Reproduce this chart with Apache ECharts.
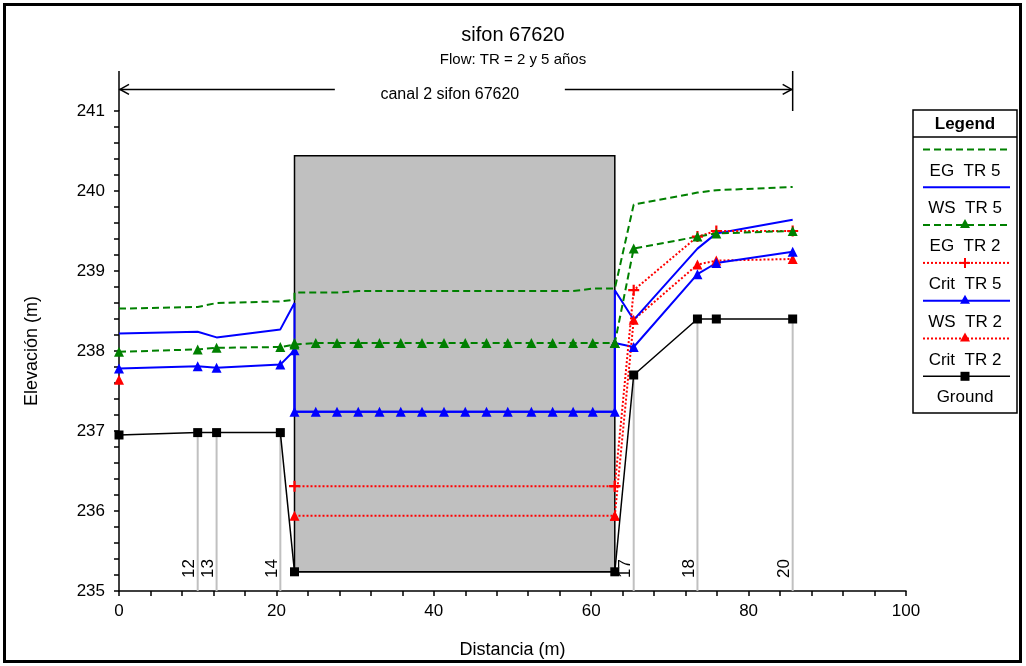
<!DOCTYPE html>
<html lang="es">
<head>
<meta charset="UTF-8">
<title>sifon 67620</title>
<style>
  html, body { margin: 0; padding: 0; background: #fff; }
  #chart { width: 1026px; height: 666px; }
</style>
</head>
<body>
<div id="chart"></div>
<script src="https://cdn.jsdelivr.net/npm/echarts@6/dist/echarts.min.js"></script>
<script>
// estaciones (m)
const upX = [0, 10, 12.4, 20.5, 22.3];
const culvertX = [22.3, 25.0, 27.7, 30.4, 33.1, 35.8, 38.5, 41.3, 44.0, 46.7, 49.4, 52.4, 55.1, 57.7, 60.2, 63.0];
const critCulvertX = [22.3, 63.0];
const downX = [63.0, 65.4, 73.5, 75.9, 85.6];

// EG TR 5
const egTr5Up = [238.53, 238.55, 238.60, 238.62, 238.64];
const egTr5Culvert = [238.73, 238.73, 238.73, 238.75, 238.75, 238.75, 238.75, 238.75, 238.75, 238.75, 238.75, 238.75, 238.75, 238.75, 238.78, 238.78];
const egTr5Down = [238.78, 239.83, 239.98, 240.01, 240.05];
// WS TR 5
const wsTr5Up = [238.22, 238.24, 238.17, 238.27, 238.60];
const wsTr5Culvert = [237.24, 237.24, 237.24, 237.24, 237.24, 237.24, 237.24, 237.24, 237.24, 237.24, 237.24, 237.24, 237.24, 237.24, 237.24, 237.24];
const wsTr5Down = [238.76, 238.39, 239.28, 239.47, 239.64];
// EG TR 2
const egTr2Up = [237.99, 238.02, 238.04, 238.05, 238.08];
const egTr2Culvert = [238.10, 238.10, 238.10, 238.10, 238.10, 238.10, 238.10, 238.10, 238.10, 238.10, 238.10, 238.10, 238.10, 238.10, 238.10, 238.10];
const egTr2Down = [238.10, 239.28, 239.43, 239.47, 239.50];
// Crit TR 5
const critTr5Up = [null, null, null, null, null];
const critTr5Culvert = [236.31, 236.31];
const critTr5Down = [236.31, 238.76, 239.43, 239.50, 239.50];
// WS TR 2
const wsTr2Up = [237.78, 237.81, 237.79, 237.83, 238.01];
const wsTr2Culvert = [237.24, 237.24, 237.24, 237.24, 237.24, 237.24, 237.24, 237.24, 237.24, 237.24, 237.24, 237.24, 237.24, 237.24, 237.24, 237.24];
const wsTr2Down = [238.10, 238.05, 238.96, 239.10, 239.24];
// Crit TR 2
const critTr2Up = [237.64, null, null, null, null];
const critTr2Culvert = [235.94, 235.94];
const critTr2Down = [235.94, 238.39, 239.08, 239.13, 239.15];
// Ground
const groundX = [0, 10, 12.4, 20.5, 22.3, 63.0, 65.4, 73.5, 75.9, 85.6];
const groundY = [236.95, 236.98, 236.98, 236.98, 235.24, 235.24, 237.70, 238.40, 238.40, 238.40];

// secciones rotuladas
const stationX = [10, 12.4, 20.5, 65.4, 73.5, 85.6];
const stationGround = [236.98, 236.98, 236.98, 237.70, 238.40, 238.40];
const stationLabels = ['12', '13', '14', '17', '18', '20'];

// sifon
const culvertStart = 22.3, culvertEnd = 63.0, culvertInvert = 235.24, culvertTop = 240.44;

// tramo
const reachLabel = 'canal 2 sifon 67620';
const reachStart = 0, reachEnd = 85.6;

const yMin = 235, yMax = 241;
const FONT = '"Liberation Sans", Arial, sans-serif';
const plusPath = 'path://M4,0 L6,0 L6,4 L10,4 L10,6 L6,6 L6,10 L4,10 L4,6 L0,6 L0,4 L4,4 Z';

function pts(xs, ys) {
  return xs.map((x, i) => [x, ys[i] == null ? '-' : ys[i]]);
}
function profile(up, mid, midX, down) {
  return pts(upX, up).concat(pts(midX, mid)).concat(pts(downX, down));
}

const GREEN = '#008000', BLUE = '#0000ff', RED = '#ff0000';

const series = [
  {
    type: 'custom', z: 1, silent: true,
    data: [[culvertStart, culvertTop]],
    renderItem: function (params, api) {
      const a = api.coord([culvertStart, culvertTop]);
      const b = api.coord([culvertEnd, culvertInvert]);
      return {
        type: 'rect',
        shape: { x: a[0], y: a[1], width: b[0] - a[0], height: b[1] - a[1] },
        style: { fill: '#c0c0c0', stroke: '#000', lineWidth: 1.5 }
      };
    }
  },
  {
    type: 'custom', z: 1, silent: true,
    data: stationX.map((x, i) => [x, stationGround[i]]),
    renderItem: function (params, api) {
      const top = api.coord([api.value(0), api.value(1)]);
      const bot = api.coord([api.value(0), yMin]);
      return {
        type: 'group',
        children: [
          { type: 'line', shape: { x1: top[0], y1: top[1], x2: bot[0], y2: bot[1] },
            style: { stroke: '#c0c0c0', lineWidth: 2 } },
          { type: 'text', x: top[0] - 8, y: bot[1] - 13, rotation: Math.PI / 2,
            style: { text: stationLabels[params.dataIndex], font: '17px ' + FONT, fill: '#000',
                     align: 'left', verticalAlign: 'middle' } }
        ]
      };
    }
  },
  {
    type: 'custom', z: 5, silent: true, clip: false,
    data: [[reachStart, yMax]],
    renderItem: function (params, api) {
      const l0 = api.coord([reachStart, yMax]);
      const l1 = api.coord([reachStart, yMax + 0.5]);
      const r0 = api.coord([reachEnd, yMax]);
      const r1 = api.coord([reachEnd, yMax + 0.5]);
      const ay = api.coord([reachStart, yMax + 0.27])[1];
      const mid = (l0[0] + r0[0]) / 2;
      const st = { stroke: '#000', lineWidth: 1.5, fill: 'none' };
      return {
        type: 'group',
        children: [
          { type: 'line', shape: { x1: l0[0], y1: l0[1], x2: l1[0], y2: l1[1] }, style: st },
          { type: 'line', shape: { x1: r0[0], y1: r0[1], x2: r1[0], y2: r1[1] }, style: st },
          { type: 'line', shape: { x1: l0[0], y1: ay, x2: mid - 121, y2: ay }, style: st },
          { type: 'line', shape: { x1: mid + 109, y1: ay, x2: r0[0], y2: ay }, style: st },
          { type: 'polyline', shape: { points: [[l0[0] + 10, ay - 5], [l0[0] + 1, ay], [l0[0] + 10, ay + 5]] }, style: st },
          { type: 'polyline', shape: { points: [[r0[0] - 10, ay - 5], [r0[0] - 1, ay], [r0[0] - 10, ay + 5]] }, style: st },
          { type: 'text', x: mid - 6, y: ay + 5,
            style: { text: reachLabel, font: '16px ' + FONT, fill: '#000', align: 'center', verticalAlign: 'middle' } }
        ]
      };
    }
  },
  {
    name: 'Crit  TR 2', type: 'line', z: 3,
    data: profile(critTr2Up, critTr2Culvert, critCulvertX, critTr2Down),
    symbol: 'triangle', symbolSize: 10, showAllSymbol: true,
    lineStyle: { color: RED, width: 2, type: [2, 2] }, itemStyle: { color: RED }
  },
  {
    name: 'WS  TR 2', type: 'line', z: 3,
    data: profile(wsTr2Up, wsTr2Culvert, culvertX, wsTr2Down),
    symbol: 'triangle', symbolSize: 10, showAllSymbol: true,
    lineStyle: { color: BLUE, width: 2 }, itemStyle: { color: BLUE }
  },
  {
    name: 'WS  TR 5', type: 'line', z: 3,
    data: profile(wsTr5Up, wsTr5Culvert, culvertX, wsTr5Down),
    symbol: 'none',
    lineStyle: { color: BLUE, width: 2 }
  },
  {
    name: 'Crit  TR 5', type: 'line', z: 3,
    data: profile(critTr5Up, critTr5Culvert, critCulvertX, critTr5Down),
    symbol: plusPath, symbolSize: 11, showAllSymbol: true,
    lineStyle: { color: RED, width: 2, type: [2, 2] }, itemStyle: { color: RED }
  },
  {
    name: 'EG  TR 2', type: 'line', z: 3,
    data: profile(egTr2Up, egTr2Culvert, culvertX, egTr2Down),
    symbol: 'triangle', symbolSize: 10, showAllSymbol: true,
    lineStyle: { color: GREEN, width: 2, type: [7, 4] }, itemStyle: { color: GREEN }
  },
  {
    name: 'EG  TR 5', type: 'line', z: 3,
    data: profile(egTr5Up, egTr5Culvert, culvertX, egTr5Down),
    symbol: 'none',
    lineStyle: { color: GREEN, width: 2, type: [7, 4] }
  },
  {
    name: 'Ground', type: 'line', z: 4,
    data: pts(groundX, groundY),
    symbol: 'rect', symbolSize: 9, showAllSymbol: true,
    lineStyle: { color: '#000', width: 1.5 }, itemStyle: { color: '#000' }
  }
];

// leyenda (linea arriba, nombre abajo)
const legendItems = [
  { name: 'EG  TR 5', color: GREEN, dash: [7, 4], mark: null },
  { name: 'WS  TR 5', color: BLUE, dash: null, mark: null },
  { name: 'EG  TR 2', color: GREEN, dash: [7, 4], mark: 'tri' },
  { name: 'Crit  TR 5', color: RED, dash: [2, 2], mark: 'plus' },
  { name: 'WS  TR 2', color: BLUE, dash: null, mark: 'tri' },
  { name: 'Crit  TR 2', color: RED, dash: [2, 2], mark: 'tri' },
  { name: 'Ground', color: '#000', dash: null, mark: 'sq' }
];

function legendGraphic() {
  const x0 = 913, y0 = 110, w = 104, h = 303;
  const cx = x0 + w / 2;
  const els = [
    { type: 'rect', shape: { x: x0, y: y0, width: w, height: h }, style: { fill: '#fff', stroke: '#000', lineWidth: 1.5 } },
    { type: 'line', shape: { x1: x0, y1: 137, x2: x0 + w, y2: 137 }, style: { stroke: '#000', lineWidth: 1.5 } },
    { type: 'text', x: cx, y: 124, style: { text: 'Legend', font: 'bold 17px ' + FONT, fill: '#000', align: 'center', verticalAlign: 'middle' } }
  ];
  legendItems.forEach(function (it, i) {
    const ly = 149.5 + i * 37.8;
    const ty = 171 + i * 37.8;
    els.push({ type: 'line', shape: { x1: 923, y1: ly, x2: 1010, y2: ly },
      style: { stroke: it.color, lineWidth: it.color === '#000' ? 1.5 : 2, lineDash: it.dash || null } });
    if (it.mark === 'tri') {
      els.push({ type: 'polygon', shape: { points: [[cx, ly - 6], [cx + 5, ly + 3], [cx - 5, ly + 3]] }, style: { fill: it.color } });
    } else if (it.mark === 'plus') {
      els.push({ type: 'rect', shape: { x: cx - 5, y: ly - 1, width: 10, height: 2 }, style: { fill: it.color } });
      els.push({ type: 'rect', shape: { x: cx - 1, y: ly - 5, width: 2, height: 10 }, style: { fill: it.color } });
    } else if (it.mark === 'sq') {
      els.push({ type: 'rect', shape: { x: cx - 4.5, y: ly - 4.5, width: 9, height: 9 }, style: { fill: it.color } });
    }
    els.push({ type: 'text', x: cx, y: ty, style: { text: it.name, font: '17px ' + FONT, fill: '#000', align: 'center', verticalAlign: 'middle' } });
  });
  return els;
}

const chart = echarts.init(document.getElementById('chart'));
chart.setOption({
  animation: false,
  backgroundColor: '#fff',
  textStyle: { fontFamily: FONT },
  title: {
    text: 'sifon 67620',
    subtext: 'Flow: TR = 2 y 5 años',
    left: 'center', top: 20, itemGap: 7,
    textStyle: { fontSize: 20, fontWeight: 'normal', color: '#000', fontFamily: FONT },
    subtextStyle: { fontSize: 15, color: '#000', fontFamily: FONT }
  },
  grid: { left: 119, right: 120, top: 111, bottom: 75, outerBoundsMode: 'none' },
  xAxis: {
    type: 'value', min: 0, max: 100, interval: 4,
    name: 'Distancia (m)', nameLocation: 'middle', nameGap: 50,
    nameTextStyle: { fontSize: 18, color: '#000', fontFamily: FONT },
    axisLine: { lineStyle: { color: '#000', width: 1.5 } },
    axisTick: { show: true, length: 5, lineStyle: { color: '#000', width: 1.5 } },
    axisLabel: {
      fontSize: 17, color: '#000', margin: 12, fontFamily: FONT,
      formatter: function (v) { return Math.abs(v % 20) < 1e-6 ? String(Math.round(v)) : ''; }
    },
    splitLine: { show: false }
  },
  yAxis: {
    type: 'value', min: yMin, max: yMax, interval: 0.2,
    name: 'Elevación (m)', nameLocation: 'middle', nameGap: 78,
    nameTextStyle: { fontSize: 18, color: '#000', fontFamily: FONT },
    axisLine: { lineStyle: { color: '#000', width: 1.5 } },
    axisTick: { show: true, length: 5, lineStyle: { color: '#000', width: 1.5 } },
    axisLabel: {
      fontSize: 17, color: '#000', margin: 14, fontFamily: FONT,
      formatter: function (v) { return Math.abs(v - Math.round(v)) < 1e-6 ? String(Math.round(v)) : ''; }
    },
    splitLine: { show: false }
  },
  graphic: [
    { type: 'rect', z: 100, silent: true, shape: { x: 4.5, y: 4.5, width: 1016, height: 657 },
      style: { fill: 'none', stroke: '#000', lineWidth: 3 } },
    { type: 'group', z: 100, children: legendGraphic() }
  ],
  series: series
});
</script>
</body>
</html>
